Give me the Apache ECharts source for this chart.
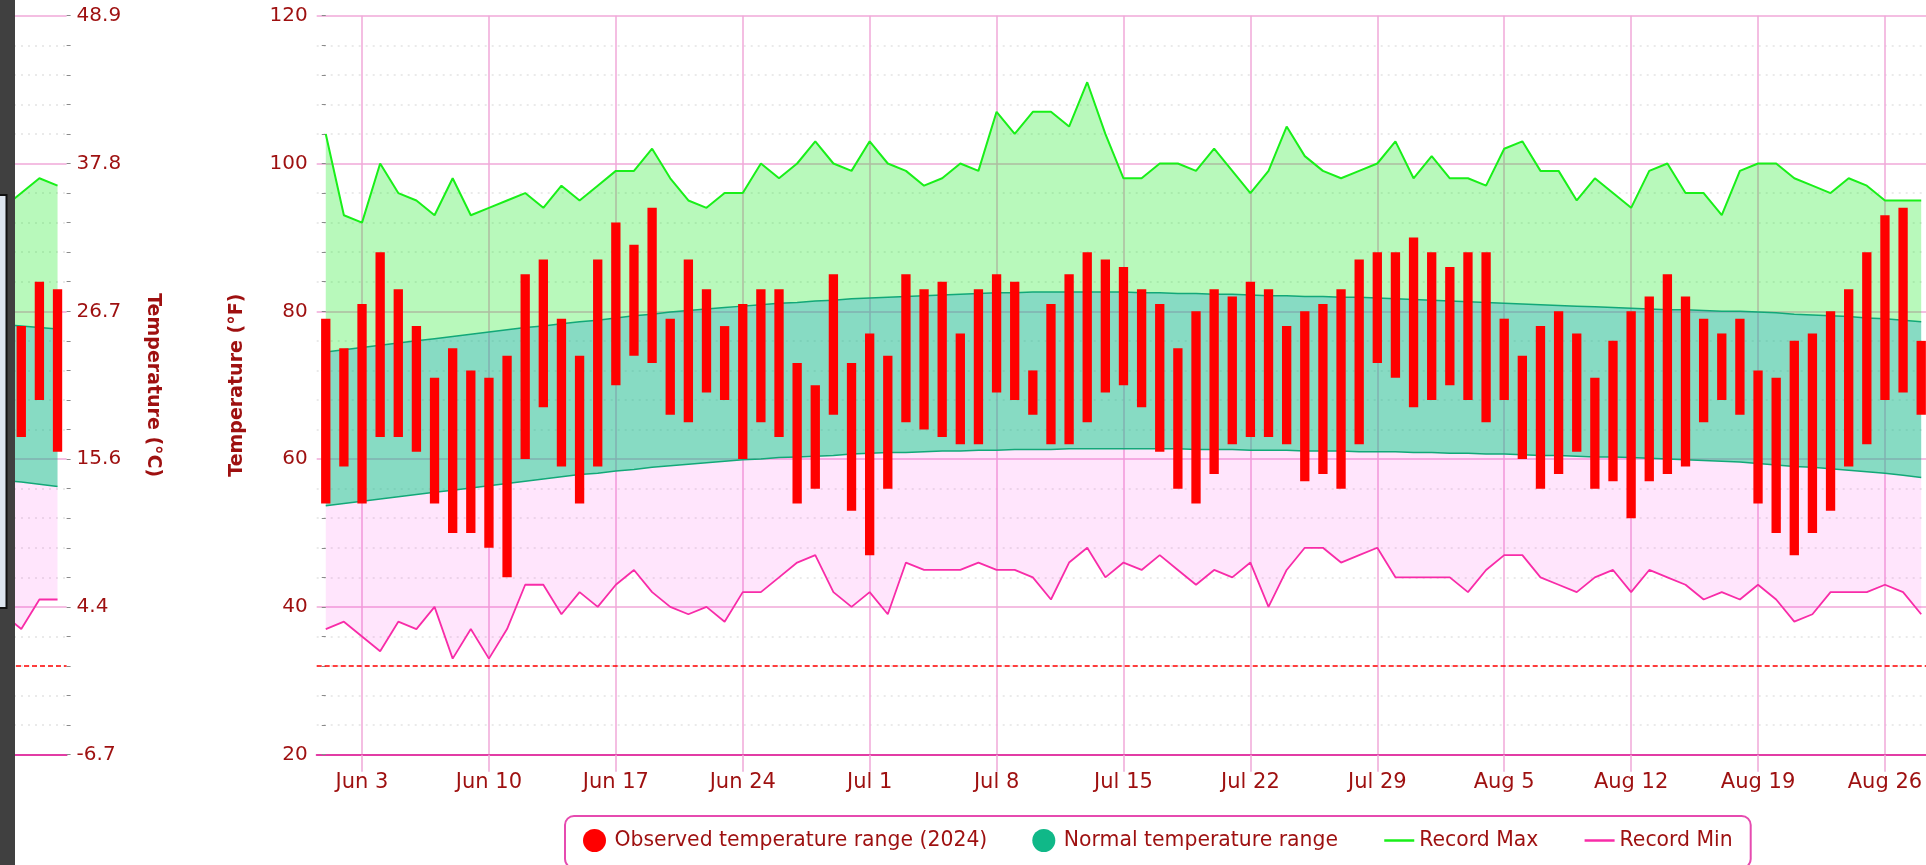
<!DOCTYPE html>
<html>
<head>
<meta charset="utf-8">
<script src="https://cdn.jsdelivr.net/npm/echarts@6/dist/echarts.min.js"></script>
<style>
html,body{margin:0;padding:0;background:#ffffff;}
#chart{width:1926px;height:865px;}
</style>
</head>
<body>
<div id="chart"></div>
<script>
// ---------- categories (day index 0 = Jun 1) ----------
const dayLabels = [
 'Jun 1','Jun 2','Jun 3','Jun 4','Jun 5','Jun 6','Jun 7','Jun 8','Jun 9','Jun 10',
 'Jun 11','Jun 12','Jun 13','Jun 14','Jun 15','Jun 16','Jun 17','Jun 18','Jun 19','Jun 20',
 'Jun 21','Jun 22','Jun 23','Jun 24','Jun 25','Jun 26','Jun 27','Jun 28','Jun 29','Jun 30',
 'Jul 1','Jul 2','Jul 3','Jul 4','Jul 5','Jul 6','Jul 7','Jul 8','Jul 9','Jul 10',
 'Jul 11','Jul 12','Jul 13','Jul 14','Jul 15','Jul 16','Jul 17','Jul 18','Jul 19','Jul 20',
 'Jul 21','Jul 22','Jul 23','Jul 24','Jul 25','Jul 26','Jul 27','Jul 28','Jul 29','Jul 30',
 'Jul 31','Aug 1','Aug 2','Aug 3','Aug 4','Aug 5','Aug 6','Aug 7','Aug 8','Aug 9',
 'Aug 10','Aug 11','Aug 12','Aug 13','Aug 14','Aug 15','Aug 16','Aug 17','Aug 18','Aug 19',
 'Aug 20','Aug 21','Aug 22','Aug 23','Aug 24','Aug 25','Aug 26','Aug 27','Aug 28'
];
// weekly tick positions (indices into dayLabels)
const xTickDays = [2, 9, 16, 23, 30, 37, 44, 51, 58, 65, 72, 79, 86];

// ---------- series values (°F) ----------
const obsHigh = [
 79,75,81,88,83,78,71,75,72,71, 74,85,87,79,74,87,92,89,94,79,
 87,83,78,81,83,83,73,70,85,73, 77,74,85,83,84,77,83,85,84,72,
 81,85,88,87,86,83,81,75,80,83, 82,84,83,78,80,81,83,87,88,88,
 90,88,86,88,88,79,74,78,80,77, 71,76,80,82,85,82,79,77,79,72,
 71,76,77,80,83,88,93,94,76
];
const obsLow = [
 54,59,54,63,63,61,54,50,50,48, 44,60,67,59,54,59,70,74,73,66,
 65,69,68,60,65,63,54,56,66,53, 47,56,65,64,63,62,62,69,68,66,
 62,62,65,69,70,67,61,56,54,58, 62,63,63,62,57,58,56,62,73,71,
 67,68,70,68,65,68,60,56,58,61, 56,57,52,57,58,59,65,68,66,54,
 50,47,50,53,59,62,68,69,66
];
const recMax = [
 104,93,92,100,96,95,93,98,93,94, 95,96,94,97,95,97,99,99,102,98,
 95,94,96,96,100,98,100,103,100,99, 103,100,99,97,98,100,99,107,104,107,
 107,105,111,104,98,98,100,100,99,102, 99,96,99,105,101,99,98,99,100,103,
 98,101,98,98,97,102,103,99,99,95, 98,96,94,99,100,96,96,93,99,100,
 100,98,97,96,98,97,95,95,95
];
const recMin = [
 37,38,36,34,38,37,40,33,37,33, 37,43,43,39,42,40,43,45,42,40,
 39,40,38,42,42,44,46,47,42,40, 42,39,46,45,45,45,46,45,45,44,
 41,46,48,44,46,45,47,45,43,45, 44,46,40,45,48,48,46,47,48,44,
 44,44,44,42,45,47,47,44,43,42, 44,45,42,45,44,43,41,42,41,43,
 41,38,39,42,42,42,43,42,39
];
const normHigh = [
 74.5,74.8,75.1,75.4,75.7,76.0,76.3,76.6,76.9,77.2,
 77.5,77.8,78.0,78.3,78.6,78.8,79.1,79.4,79.6,79.9,
 80.1,80.3,80.5,80.7,80.9,81.1,81.2,81.4,81.5,81.7,
 81.8,81.9,82.0,82.1,82.2,82.3,82.4,82.5,82.5,82.6,
 82.6,82.6,82.6,82.6,82.6,82.5,82.5,82.4,82.4,82.3,
 82.3,82.2,82.1,82.1,82.0,82.0,81.9,81.9,81.8,81.7,
 81.6,81.5,81.4,81.3,81.2,81.1,81.0,80.9,80.8,80.7,
 80.6,80.5,80.4,80.3,80.2,80.2,80.1,80.0,80.0,79.9,
 79.8,79.6,79.5,79.4,79.3,79.1,79.0,78.8,78.6
];
const normLow = [
 53.7,54.0,54.3,54.6,54.9,55.2,55.5,55.8,56.1,56.4,
 56.7,57.0,57.3,57.6,57.9,58.1,58.4,58.6,58.9,59.1,
 59.3,59.5,59.7,59.9,60.0,60.2,60.3,60.4,60.5,60.7,
 60.8,60.9,60.9,61.0,61.1,61.1,61.2,61.2,61.3,61.3,
 61.3,61.4,61.4,61.4,61.4,61.4,61.4,61.4,61.3,61.3,
 61.3,61.2,61.2,61.2,61.1,61.1,61.1,61.0,61.0,61.0,
 60.9,60.9,60.8,60.8,60.7,60.7,60.6,60.5,60.5,60.4,
 60.3,60.3,60.2,60.1,60.0,59.9,59.8,59.7,59.6,59.4,
 59.2,59.0,58.9,58.7,58.5,58.3,58.1,57.8,57.5
];

// ---------- previous panel (right edge only visible: May 28 - May 31) ----------
const prevLabels = ['May 28','May 29','May 30','May 31'];
const prevObsHigh = [null, 78, 84, 83];
const prevObsLow  = [null, 63, 68, 61];
const prevRecMax  = [94, 96, 98, 97];
const prevRecMin  = [39, 37, 41, 41];
const prevNormHigh = [78.2, 78.0, 77.8, 77.6];
const prevNormLow  = [57.1, 56.9, 56.6, 56.3];
const prevOffset = -prevLabels.length;   // May 28 => -4 relative to Jun 1

const freezingF = 32;

// ---------- styles ----------
const TXT = '#9e1010';
const FONT = 'DejaVu Sans';
const PINK_GRID = '#f0a8d8';
const AXIS_MAG = '#e23ca5';
const C_OBS = '#ff0000';
const C_NORM = '#10b888';
const C_NORM_LINE = '#12a878';
const C_RMAX = '#19ef19';
const C_RMIN = '#f82ca8';

function band(name, g, offset, lo, hi, fill, legendColor, z) {
  const n = lo.length;
  return {
    type: 'custom', name: name, xAxisIndex: g, yAxisIndex: g, z: z, silent: true,
    itemStyle: { color: legendColor },
    encode: { x: 0, y: [1, 2] },
    data: lo.map((v, i) => [i + offset, v, hi[i]]),
    renderItem: function (params, api) {
      if (params.dataIndexInside !== 0) return null;
      const top = [], bot = [];
      for (let j = 0; j < n; j++) {
        const x = api.value(0, j);
        top.push(api.coord([x, api.value(2, j)]));
        bot.push(api.coord([x, api.value(1, j)]));
      }
      return { type: 'polygon', shape: { points: top.concat(bot.reverse()) }, style: { fill: fill } };
    }
  };
}
function bars(name, g, offset, lo, hi, z) {
  const data = [];
  hi.forEach((v, i) => { if (v != null && lo[i] != null) data.push([i + offset, lo[i], v]); });
  return {
    type: 'custom', name: name, xAxisIndex: g, yAxisIndex: g, z: z, silent: true,
    itemStyle: { color: C_OBS },
    encode: { x: 0, y: [1, 2] },
    data: data,
    renderItem: function (params, api) {
      const x = api.value(0);
      const pHi = api.coord([x, api.value(2)]);
      const pLo = api.coord([x, api.value(1)]);
      const w = api.size([1, 0])[0] * 0.514;
      return { type: 'rect', shape: { x: pHi[0] - w / 2, y: pHi[1], width: w, height: pLo[1] - pHi[1] },
               style: { fill: C_OBS } };
    }
  };
}
function line(name, g, offset, arr, color, width, z, extra) {
  return Object.assign({
    type: 'line', name: name, xAxisIndex: g, yAxisIndex: g, z: z, silent: true,
    symbol: 'none', showSymbol: false,
    lineStyle: { color: color, width: width },
    itemStyle: { color: color },
    data: arr.map((v, i) => [i + offset, v])
  }, extra || {});
}
const freezeLine = {
  silent: true, symbol: ['none', 'none'], label: { show: false },
  lineStyle: { color: '#ff0000', type: [5, 3], width: 1.5 },
  data: [{ yAxis: freezingF }]
};

function yAxisCommon(extra) {
  return Object.assign({
    type: 'value', min: 20, max: 120, interval: 20,
    nameLocation: 'middle',
    nameTextStyle: { color: TXT, fontSize: 19, fontWeight: 'bold', fontFamily: FONT },
    axisLine: { show: false },
    axisTick: { show: true, length: 4, lineStyle: { color: '#8a8a8a', width: 1 } },
    minorTick: { show: true, splitNumber: 5, length: 4, lineStyle: { color: '#8a8a8a', width: 1 } },
    splitLine: { show: true, lineStyle: { color: PINK_GRID, width: 1.5 } },
    minorSplitLine: { show: true, lineStyle: { color: '#e4e4e4', width: 1.5, type: [2, 5] } }
  }, extra);
}

const PX_PER_DAY = 18.13;
const prevGridW = 66.6;
const hiddenIcon = { color: 'rgba(0,0,0,0)', borderColor: 'rgba(0,0,0,0)', borderWidth: 0, opacity: 0 };

const option = {
  animation: false,
  backgroundColor: '#ffffff',
  textStyle: { fontFamily: FONT },
  grid: [
    { left: 0, top: 15.7, width: prevGridW, height: 739, outerBoundsMode: 'none', containLabel: false },
    { left: 316.7, top: 15.7, width: 92 * PX_PER_DAY, height: 739, outerBoundsMode: 'none', containLabel: false }
  ],
  xAxis: [
    { type: 'value', gridIndex: 0, min: -0.5 - prevGridW / PX_PER_DAY, max: -0.5,
      axisLine: { show: true, lineStyle: { color: AXIS_MAG, width: 2 } },
      axisTick: { show: false }, axisLabel: { show: false }, splitLine: { show: false } },
    { type: 'value', gridIndex: 1, min: -0.5, max: 91.5,
      axisLine: { show: true, lineStyle: { color: AXIS_MAG, width: 2 } },
      axisTick: { show: true, customValues: xTickDays, length: 17, lineStyle: { color: PINK_GRID, width: 1.5 } },
      axisLabel: { show: true, customValues: xTickDays, margin: 17, color: TXT, fontSize: 21, fontFamily: FONT,
                   formatter: v => dayLabels[Math.round(v)] },
      splitLine: { show: true, lineStyle: { color: PINK_GRID, width: 1.5 } } }
  ],
  yAxis: [
    yAxisCommon({ gridIndex: 0, position: 'right', name: 'Temperature (°C)', nameRotate: -90, nameGap: 77,
      axisLabel: { margin: 10, color: TXT, fontSize: 20, fontFamily: FONT,
                   formatter: v => ((v - 32) * 5 / 9).toFixed(1) } }),
    yAxisCommon({ gridIndex: 1, position: 'left', name: 'Temperature (°F)', nameRotate: 90, nameGap: 70,
      axisLabel: { margin: 9, color: TXT, fontSize: 20, fontFamily: FONT } })
  ],
  legend: {
    left: 565, top: 816,
    padding: [13, 18, 16, 18],
    itemGap: 45, itemWidth: 30, itemHeight: 23,
    borderColor: '#e64bb0', borderWidth: 2, borderRadius: 9,
    backgroundColor: '#ffffff',
    selectedMode: false,
    lineStyle: { width: 2.5 },
    textStyle: { color: TXT, fontSize: 20.4, fontFamily: FONT },
    data: [
      { name: 'Observed temperature range (2024)', icon: 'circle' },
      { name: 'Normal temperature range', icon: 'circle' },
      { name: 'Record Max', itemStyle: hiddenIcon, lineStyle: { width: 2.5, color: C_RMAX } },
      { name: 'Record Min', itemStyle: hiddenIcon, lineStyle: { width: 2.5, color: C_RMIN } }
    ]
  },
  graphic: [
    { type: 'rect', z: 100, shape: { x: 0, y: 0, width: 15, height: 865 }, style: { fill: '#404040' } },
    { type: 'rect', z: 101, shape: { x: -12, y: 195, width: 18.5, height: 413 },
      style: { fill: '#dde5ef', stroke: '#111111', lineWidth: 2 } }
  ],
  series: [
    // previous panel
    band('prev-low-band', 0, prevOffset, prevRecMin, prevNormLow, 'rgba(255,0,230,0.1)', C_RMIN, 1),
    band('prev-normal', 0, prevOffset, prevNormLow, prevNormHigh, 'rgba(16,184,136,0.5)', C_NORM, 1),
    band('prev-high-band', 0, prevOffset, prevNormHigh, prevRecMax, 'rgba(20,235,30,0.3)', C_RMAX, 1),
    line('prev-normHigh', 0, prevOffset, prevNormHigh, C_NORM_LINE, 1.5, 2),
    line('prev-normLow', 0, prevOffset, prevNormLow, C_NORM_LINE, 1.5, 2),
    line('prev-recMax', 0, prevOffset, prevRecMax, C_RMAX, 2, 3),
    line('prev-recMin', 0, prevOffset, prevRecMin, C_RMIN, 1.8, 3, { markLine: freezeLine }),
    bars('prev-obs', 0, prevOffset, prevObsLow, prevObsHigh, 4),
    // main panel
    band('low-band', 1, 0, recMin, normLow, 'rgba(255,0,230,0.1)', C_RMIN, 1),
    band('Normal temperature range', 1, 0, normLow, normHigh, 'rgba(16,184,136,0.5)', C_NORM, 1),
    band('high-band', 1, 0, normHigh, recMax, 'rgba(20,235,30,0.3)', C_RMAX, 1),
    line('normal-high', 1, 0, normHigh, C_NORM_LINE, 1.5, 2),
    line('normal-low', 1, 0, normLow, C_NORM_LINE, 1.5, 2),
    line('Record Max', 1, 0, recMax, C_RMAX, 2, 3),
    line('Record Min', 1, 0, recMin, C_RMIN, 1.8, 3, { markLine: freezeLine }),
    bars('Observed temperature range (2024)', 1, 0, obsLow, obsHigh, 4)
  ]
};

const chart = echarts.init(document.getElementById('chart'), null, { renderer: 'canvas', width: 1926, height: 865 });
chart.setOption(option);
</script>
</body>
</html>
